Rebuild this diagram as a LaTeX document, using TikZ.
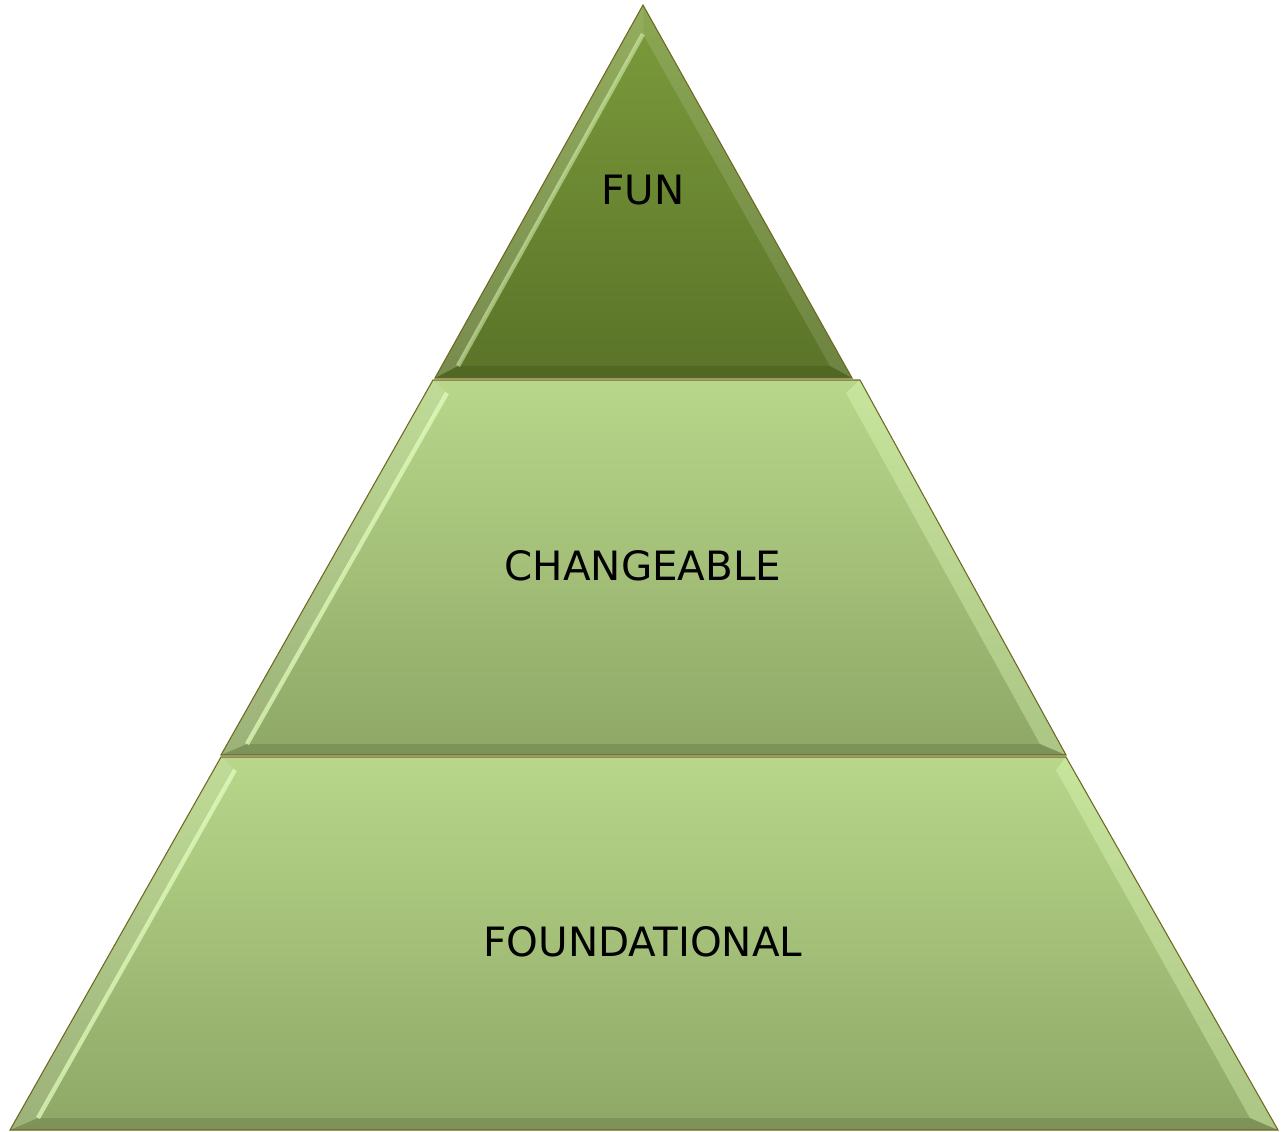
\documentclass[tikz,border=0pt]{standalone}
\usepackage{fontspec}
\setsansfont{DejaVu Sans}
\usepackage{tikz}
\usetikzlibrary{positioning}
\tikzset{font=\sffamily}
\tikzset{tier/.style={draw=olive!70!black, line width=0.6pt}}
\tikzset{label/.style={font=\sffamily\fontsize{23}{27}\selectfont, text=black}}
\definecolor{funtop}{HTML}{7C9C3C}
\definecolor{funbot}{HTML}{5A7328}
\definecolor{lowtop}{HTML}{B8D78A}
\definecolor{lowbot}{HTML}{8EA766}
\definecolor{shine}{HTML}{E4FFC0}

\begin{document}
\begin{tikzpicture}[x=0.02cm,y=-0.02cm]
\useasboundingbox (0,0) rectangle (1281,1132);
% top tier
\coordinate (fa) at (643,5);
\coordinate (fl) at (435,378);
\coordinate (fr) at (852,378);
\coordinate (fia) at (643,34);
\coordinate (fil) at (458,366);
\coordinate (fir) at (830,366);
\shade[top color=funtop, bottom color=funbot] (fa)--(fr)--(fl)--cycle;
\fill[white, opacity=.18] (fa)--(fia)--(fil)--(fl)--cycle;
\fill[white, opacity=.12] (fa)--(fr)--(fir)--(fia)--cycle;
\fill[black, opacity=.10] (fl)--(fil)--(fir)--(fr)--cycle;
\draw[shine, opacity=.5, line width=2.5pt] (fia)--(fil);
\draw[tier] (fa)--(fr)--(fl)--cycle;
% middle tier
\coordinate (ml) at (433,380);
\coordinate (mr) at (860,380);
\coordinate (mbr) at (1066,755);
\coordinate (mbl) at (221,755);
\coordinate (mil) at (447,393);
\coordinate (mir) at (846,393);
\coordinate (mibr) at (1040,744);
\coordinate (mibl) at (247,744);
\shade[top color=lowtop, bottom color=lowbot] (ml)--(mr)--(mbr)--(mbl)--cycle;
\fill[white, opacity=.12] (ml)--(mil)--(mibl)--(mbl)--cycle;
\fill[shine, opacity=.35] (mr)--(mbr)--(mibr)--(mir)--cycle;
\fill[black, opacity=.12] (mbl)--(mibl)--(mibr)--(mbr)--cycle;
\draw[shine, opacity=.7, line width=2.5pt] (mil)--(mibl);
\draw[tier] (ml)--(mr)--(mbr)--(mbl)--cycle;
% bottom tier
\coordinate (bl) at (221,757);
\coordinate (br) at (1066,757);
\coordinate (bbr) at (1278,1130);
\coordinate (bbl) at (10,1130);
\coordinate (bil) at (235,770);
\coordinate (bir) at (1056,770);
\coordinate (bibr) at (1250,1118);
\coordinate (bibl) at (38,1118);
\shade[top color=lowtop, bottom color=lowbot] (bl)--(br)--(bbr)--(bbl)--cycle;
\fill[white, opacity=.12] (bl)--(bil)--(bibl)--(bbl)--cycle;
\fill[shine, opacity=.35] (br)--(bbr)--(bibr)--(bir)--cycle;
\fill[black, opacity=.12] (bbl)--(bibl)--(bibr)--(bbr)--cycle;
\draw[shine, opacity=.7, line width=2.5pt] (bil)--(bibl);
\draw[tier] (bl)--(br)--(bbr)--(bbl)--cycle;
% labels
\node[label] (fun) at (643,190) {FUN};
\node[label] (change) at (643,566) {CHANGEABLE};
\node[label] (found) at (643,942) {FOUNDATIONAL};
\end{tikzpicture}
\end{document}
